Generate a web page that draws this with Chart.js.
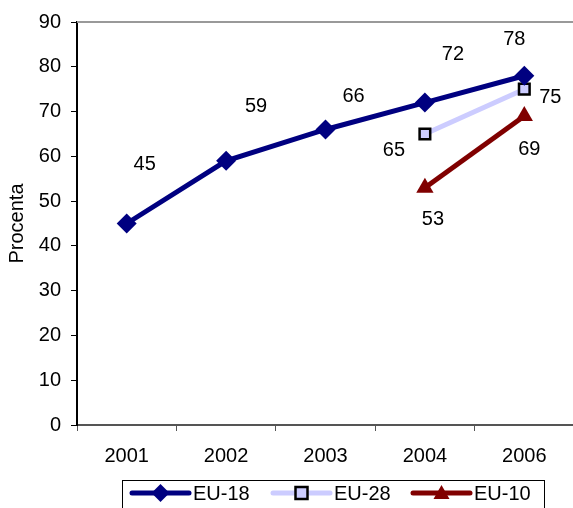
<!DOCTYPE html>
<html>
<head>
<meta charset="utf-8">
<script src="https://cdn.jsdelivr.net/npm/chart.js@4/dist/chart.umd.min.js"></script>
<style>
html,body{margin:0;padding:0;background:#fff;overflow:hidden;}
#wrap{width:584px;height:508px;}
</style>
</head>
<body>
<div id="wrap"><canvas id="c" width="584" height="508"></canvas></div>
<script>
const categories = ['2001','2002','2003','2004','2006'];
const eu18 = [45, 59, 66, 72, 78];
const eu28 = [null, null, null, 65, 75];
const eu10 = [null, null, null, 53, 69];
const seriesNames = ['EU-18','EU-28','EU-10'];
const yTicks = [0,10,20,30,40,50,60,70,80,90];

// label offsets (pixels from each point)
const labelOffsets = [
  [[18,-59],[30,-54],[28,-33],[28,-48],[-10,-36]],
  [null,null,null,[-31,17],[26,8]],
  [null,null,null,[8,32],[5,33]]
];

const FONT = '"Liberation Sans", Arial, sans-serif';
const FSIZE = 20;

const labelPlugin = {
  id: 'labels',
  afterDatasetsDraw(chart) {
    const ctx = chart.ctx;
    ctx.save();
    ctx.font = FSIZE + 'px ' + FONT;
    ctx.fillStyle = '#000';
    ctx.textAlign = 'center';
    ctx.textBaseline = 'middle';
    chart.data.datasets.forEach((ds, di) => {
      const meta = chart.getDatasetMeta(di);
      meta.data.forEach((pt, i) => {
        const v = ds.data[i];
        if (v == null) return;
        const off = labelOffsets[di][i];
        ctx.fillText(String(v), pt.x + off[0], pt.y + off[1]);
      });
    });
    ctx.restore();
  }
};

const framePlugin = {
  id: 'frame',
  beforeDatasetsDraw(chart) {
    const {ctx, chartArea} = chart;
    ctx.save();
    ctx.strokeStyle = '#999';
    ctx.lineWidth = 2;
    ctx.beginPath();
    ctx.moveTo(chartArea.left, chartArea.top);
    ctx.lineTo(chartArea.right, chartArea.top);
    ctx.stroke();
    ctx.restore();
  }
};

function drawMarker(ctx, style, x, y) {
  if (style === 'diamond') {
    ctx.fillStyle = '#000080';
    ctx.beginPath();
    ctx.moveTo(x, y - 9); ctx.lineTo(x + 9, y); ctx.lineTo(x, y + 9); ctx.lineTo(x - 9, y);
    ctx.closePath(); ctx.fill();
  } else if (style === 'square') {
    ctx.fillStyle = '#CCCCFF';
    ctx.strokeStyle = '#000';
    ctx.lineWidth = 2.5;
    ctx.fillRect(x - 6, y - 6, 12, 12);
    ctx.strokeRect(x - 6, y - 6, 12, 12);
  } else {
    ctx.fillStyle = '#800000';
    ctx.beginPath();
    ctx.moveTo(x, y - 8); ctx.lineTo(x + 8, y + 6); ctx.lineTo(x - 8, y + 6);
    ctx.closePath(); ctx.fill();
  }
}

const legendPlugin = {
  id: 'customLegend',
  afterDraw(chart) {
    const ctx = chart.ctx;
    ctx.save();
    ctx.strokeStyle = '#000';
    ctx.lineWidth = 1;
    ctx.strokeRect(122.5, 480.5, 422, 40);
    const items = [
      {x: 132, color: '#000080', style: 'diamond'},
      {x: 273, color: '#CCCCFF', style: 'square'},
      {x: 413, color: '#800000', style: 'triangle'}
    ];
    const ly = 493;
    items.forEach((it, i) => {
      ctx.strokeStyle = it.color;
      ctx.lineWidth = 5;
      ctx.lineCap = 'round';
      ctx.beginPath();
      ctx.moveTo(it.x, ly); ctx.lineTo(it.x + 57, ly);
      ctx.stroke();
      drawMarker(ctx, it.style, it.x + 28.5, ly);
      ctx.fillStyle = '#000';
      ctx.font = FSIZE + 'px ' + FONT;
      ctx.textAlign = 'left';
      ctx.textBaseline = 'middle';
      ctx.fillText(seriesNames[i], it.x + 61, ly + 1);
    });
    ctx.restore();
  }
};

new Chart(document.getElementById('c'), {
  type: 'line',
  data: {
    labels: categories,
    datasets: [
      {label: seriesNames[0], data: eu18, borderColor: '#000080', backgroundColor: '#000080',
       borderWidth: 5, pointStyle: 'rectRot', pointRadius: 10, pointHoverRadius: 10,
       pointBorderWidth: 0, spanGaps: false},
      {label: seriesNames[1], data: eu28, borderColor: '#CCCCFF', backgroundColor: '#CCCCFF',
       pointBorderColor: '#000', borderWidth: 5, pointStyle: 'rect', pointRadius: 7.5, pointHoverRadius: 7.5,
       pointBorderWidth: 2.5},
      {label: seriesNames[2], data: eu10, borderColor: '#800000', backgroundColor: '#800000',
       borderWidth: 5, pointStyle: 'triangle', pointRadius: 10, pointHoverRadius: 10,
       pointBorderWidth: 0}
    ]
  },
  options: {
    responsive: false,
    animation: false,
    layout: {padding: {left: 0, right: 3, top: 20, bottom: 0}},
    plugins: {legend: {display: false}, tooltip: {enabled: false}},
    scales: {
      x: {
        offset: true,
        grid: {display: true, drawOnChartArea: false, drawTicks: true, tickLength: 6, tickColor: '#555', offset: true},
        border: {color: '#555', width: 2},
        ticks: {color: '#000', font: {family: FONT, size: FSIZE}, padding: 13},
        afterFit(s) { s.height = 83; }
      },
      y: {
        min: 0, max: 90,
        afterBuildTicks(s) { s.ticks = yTicks.map(v => ({value: v})); },
        grid: {display: true, drawOnChartArea: false, drawTicks: true, tickLength: 6, tickColor: '#000'},
        border: {color: '#000', width: 2},
        ticks: {color: '#000', font: {family: FONT, size: FSIZE}, padding: 10},
        title: {display: true, text: 'Procenta', color: '#000', font: {family: FONT, size: FSIZE}, padding: {top: 5, bottom: 0}},
        afterFit(s) { s.width = 77; }
      }
    }
  },
  plugins: [framePlugin, labelPlugin, legendPlugin]
});
</script>
</body>
</html>
